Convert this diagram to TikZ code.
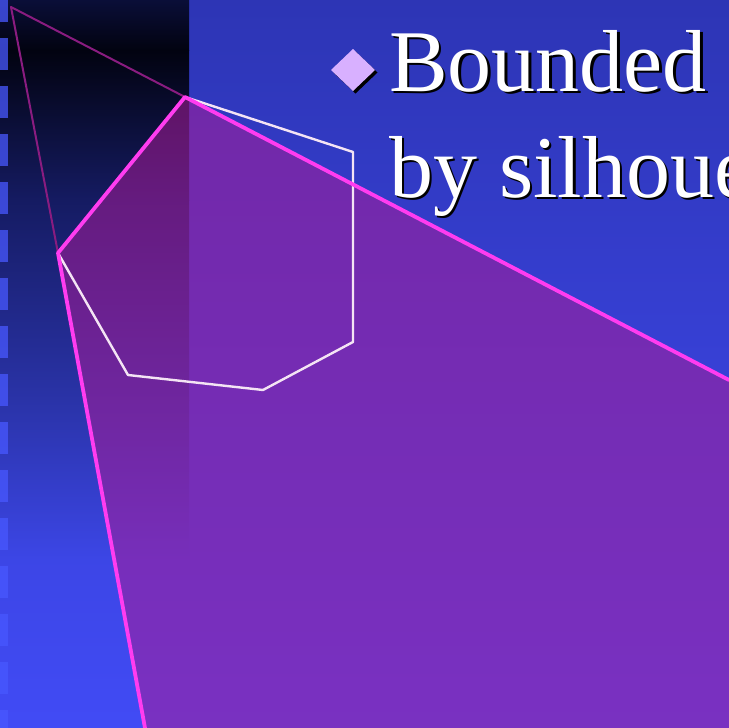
\documentclass[tikz,border=0pt]{standalone}
\usepackage{fontspec}
\setmainfont{Liberation Serif}
\definecolor{bgtop}{HTML}{2D35B5}
\definecolor{bgbot}{HTML}{414BF5}
\definecolor{sA}{HTML}{0A0E38}
\definecolor{sB}{HTML}{020310}
\definecolor{sC}{HTML}{151B62}
\definecolor{sD}{HTML}{2A33A8}
\definecolor{sE}{HTML}{3C46E6}
\definecolor{checker}{HTML}{4858FF}
\definecolor{shadowfill}{HTML}{A81C98}
\definecolor{edgemag}{HTML}{FF3CF0}
\definecolor{raymag}{HTML}{8A1C80}
\definecolor{occl}{HTML}{F4E4F4}
\definecolor{bullet}{HTML}{D8B0FF}
\tikzset{
  edge/.style={draw=edgemag, line width=3.8pt, line join=round, line cap=round},
  ray/.style={draw=raymag, line width=2pt, line cap=round},
  occluder/.style={draw=occl, line width=2.4pt, line join=round},
  sqr/.style={fill=checker, opacity=0.75},
  txt/.style={font=\fontsize{88}{106}\selectfont, inner sep=0pt, anchor=base west},
}
\begin{document}
\begin{tikzpicture}[x=1pt,y=-1pt]
\useasboundingbox (0,0) rectangle (729,728);
\clip (0,0) rectangle (729,728);
% background
\shade[top color=bgtop, bottom color=bgbot] (0,0) rectangle (729,728);
% dark strip
\shade[top color=sA, bottom color=sB] (0,0) rectangle (189,50.5);
\shade[top color=sB, bottom color=sC] (0,50) rectangle (189,200.5);
\shade[top color=sC, bottom color=sD] (0,200) rectangle (189,400.5);
\shade[top color=sD, bottom color=sE] (0,400) rectangle (189,560);
% checker squares
\foreach \k in {0,...,15} {
  \fill[sqr] (0,{-10+48*\k}) rectangle (8,{22+48*\k});
}
% named points
\coordinate (L) at (11,7);
\coordinate (A) at (185,97);
\coordinate (B) at (353,152);
\coordinate (C) at (353,342);
\coordinate (D) at (263,390);
\coordinate (E) at (128,375);
\coordinate (F) at (58,253);
\coordinate (R) at (729,380);
\coordinate (S) at (145,728);
% shadow volume
\fill[shadowfill, opacity=0.55] (A) -- (R) -- (729,728) -- (S) -- (F) -- cycle;
% rays from light
\draw[ray] (L) -- (A);
\draw[ray] (L) -- (F);
% occluder
\draw[occluder] (F) -- (E) -- (D) -- (C) -- (B) -- (A);
% silhouette edges
\draw[edge] (S) -- (F) -- (A) -- (R);
% bullet
\fill[black] (355.5,51.5) -- (377.5,72.5) -- (355.5,93.5) -- (333.5,72.5) -- cycle;
\fill[bullet] (353,49) -- (375,70) -- (353,91) -- (331,70) -- cycle;
% text
\node[txt, text=black] (t1s) at (391.5,93.5) {Bounded};
\node[txt, text=white] (t1) at (389,91) {Bounded};
\node[txt, text=black] (t2s) at (391.5,199.5) {by silhoue};
\node[txt, text=white] (t2) at (389,197) {by silhoue};
\end{tikzpicture}
\end{document}
